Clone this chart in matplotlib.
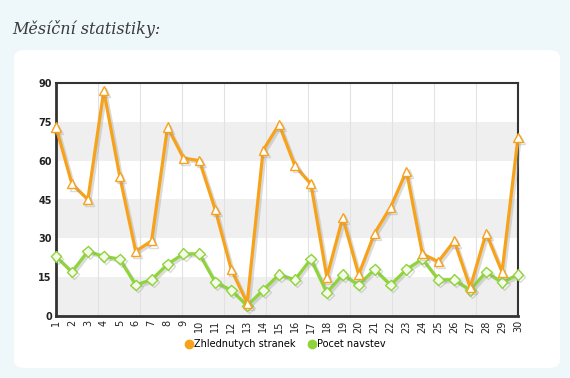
import numpy as np
import matplotlib.pyplot as plt
import matplotlib.patheffects as pe
from matplotlib.patches import FancyBboxPatch

days = list(range(1, 31))
zhlednute = [73, 51, 45, 87, 54, 25, 29, 73, 61, 60, 41, 18, 5, 64, 74,
             58, 51, 15, 38, 16, 32, 42, 56, 24, 21, 29, 11, 32, 17, 69]
navstevy = [23, 17, 25, 23, 22, 12, 14, 20, 24, 24, 13, 10, 4, 10, 16,
            14, 22, 9, 16, 12, 18, 12, 18, 22, 14, 14, 10, 17, 13, 16]
y_ticks = [0, 15, 30, 45, 60, 75, 90]

orange = '#f7a21b'
green = '#8ed43a'

fig = plt.figure(figsize=(5.7, 3.78), dpi=100)
fig.patch.set_facecolor('#eef7f9')

# white rounded panel behind the chart
panel = FancyBboxPatch((14 / 570, 1 - 368 / 378), (560 - 14) / 570, (368 - 50) / 378,
                       boxstyle='round,pad=0,rounding_size=0.02',
                       transform=fig.transFigure, facecolor='white',
                       edgecolor='none', zorder=-10)
fig.patches.append(panel)

fig.text(12 / 570, 1 - 29 / 378, 'Měsíční statistiky:', family='DejaVu Serif',
         style='italic', fontsize=11.5, color='#3a3a3a', va='center', ha='left')

ax = fig.add_axes([56 / 570, 1 - 316 / 378, (518 - 56) / 570, (316 - 83) / 378])
ax.set_facecolor('white')

# alternating horizontal bands
for i in range(0, len(y_ticks) - 1, 2):
    ax.axhspan(y_ticks[i], y_ticks[i + 1], color='#efefef', zorder=0, lw=0)

# vertical grid lines
for xv in np.linspace(1, 30, 12)[1:-1]:
    ax.axvline(xv, color='#e2e2e2', lw=0.8, zorder=1)

shadow = [pe.SimpleLineShadow(offset=(1.5, -1.5), shadow_color='#999999', alpha=0.35),
          pe.Normal()]

ax.plot(days, zhlednute, color=orange, lw=2.3, marker='^', markersize=6.5,
        markerfacecolor='white', markeredgecolor=orange, markeredgewidth=1,
        path_effects=shadow, zorder=4, label='Zhlednutych stranek', clip_on=False)
ax.plot(days, navstevy, color=green, lw=2.3, marker='D', markersize=5.5,
        markerfacecolor='#f4fbe8', markeredgecolor=green, markeredgewidth=1,
        path_effects=shadow, zorder=3, label='Pocet navstev', clip_on=False)

ax.set_xlim(1, 30)
ax.set_ylim(0, 90)
ax.set_yticks(y_ticks)
ax.set_yticklabels([str(v) for v in y_ticks], fontsize=7, fontweight='bold', color='#222222')
ax.set_xticks(days)
ax.set_xticklabels([str(d) for d in days], rotation=90, fontsize=7, color='#222222')
ax.tick_params(axis='y', length=0, pad=3)
ax.tick_params(axis='x', length=0, pad=3)

for s in ax.spines.values():
    s.set_color('#333333')
    s.set_linewidth(1.5)
ax.spines['left'].set_linewidth(2)
ax.spines['bottom'].set_linewidth(2)

handles = [plt.Line2D([], [], marker='o', color='none', markerfacecolor=orange,
                      markeredgecolor=orange, markersize=6),
           plt.Line2D([], [], marker='o', color='none', markerfacecolor=green,
                      markeredgecolor=green, markersize=6)]
fig.legend(handles, ['Zhlednutych stranek', 'Pocet navstev'], loc='center',
           bbox_to_anchor=(0.5, 1 - 344 / 378), ncol=2, frameon=False,
           fontsize=7, handletextpad=0.0, columnspacing=1.2, handlelength=1.0)

fig.savefig('out.png', dpi=100, facecolor=fig.get_facecolor())
